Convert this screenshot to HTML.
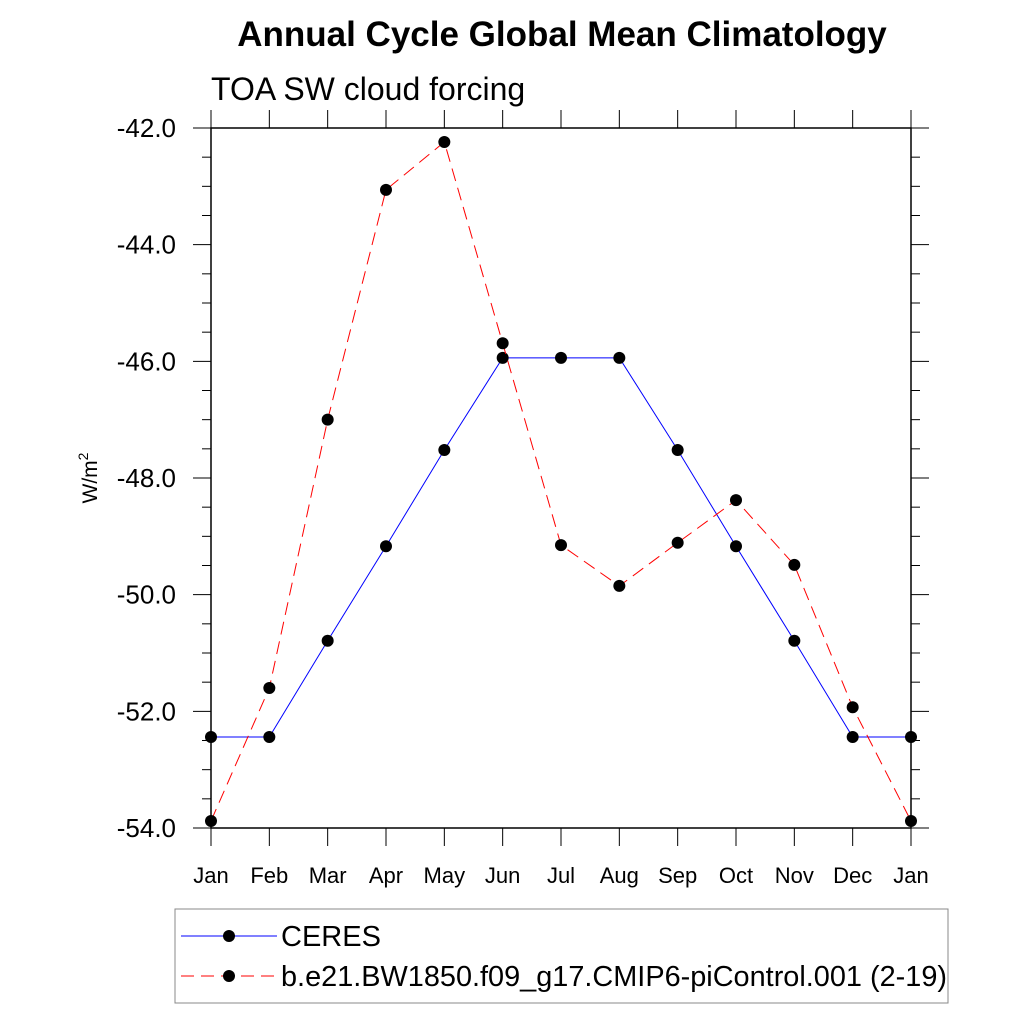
<!DOCTYPE html>
<html><head><meta charset="utf-8"><style>body{margin:0;background:#fff}</style></head><body>
<svg id="c" width="1024" height="1024" xmlns="http://www.w3.org/2000/svg" font-family="Liberation Sans, sans-serif">
<text x="562" y="46" font-size="35" font-weight="bold" text-anchor="middle">Annual Cycle Global Mean Climatology</text>
<text x="211" y="100" font-size="32">TOA SW cloud forcing</text>
<text transform="translate(97,478) rotate(-90)" font-size="21" text-anchor="middle">W/m<tspan dy="-9" font-size="14">2</tspan></text>
<g id="ax"></g><g id="series"></g>
<g>
<rect x="175" y="909" width="773" height="94" fill="none" stroke="#888" stroke-width="1"/>
<line x1="181" y1="936" x2="277" y2="936" stroke="blue" stroke-width="1"/>
<circle cx="229" cy="936" r="6" fill="#000"/>
<text x="281" y="946" font-size="29">CERES</text>
<line x1="181" y1="976" x2="277" y2="976" stroke="red" stroke-width="1" stroke-dasharray="13,7"/>
<circle cx="229" cy="976" r="6" fill="#000"/>
<text x="281" y="986" font-size="29" textLength="666" lengthAdjust="spacingAndGlyphs">b.e21.BW1850.f09_g17.CMIP6-piControl.001 (2-19)</text>
</g>
</svg>
<script>
const months=["Jan","Feb","Mar","Apr","May","Jun","Jul","Aug","Sep","Oct","Nov","Dec","Jan"];
const ceres=[-52.44,-52.44,-50.79,-49.17,-47.52,-45.94,-45.94,-45.94,-47.52,-49.17,-50.79,-52.44,-52.44];
const model=[-53.88,-51.6,-47.0,-43.06,-42.24,-45.69,-49.15,-49.85,-49.11,-48.38,-49.49,-51.93,-53.88];
const yTicks=[-42,-44,-46,-48,-50,-52,-54];
const L=211,R=911,T=128,B=828,ymin=-54,ymax=-42;
const NS="http://www.w3.org/2000/svg";
const xs=i=>L+(R-L)*i/(months.length-1);
const ys=v=>B-(v-ymin)/(ymax-ymin)*(B-T);
function mk(tag,at,parent){const e=document.createElementNS(NS,tag);for(const k in at)e.setAttribute(k,at[k]);parent.appendChild(e);return e;}
const ax=document.getElementById('ax');
const frame=mk('rect',{x:L,y:T,width:R-L,height:B-T,fill:'none',stroke:'#000','stroke-width':1.5},ax);


for(let v=ymin;v<=ymax+1e-9;v+=0.5){
  const y=ys(v),major=Math.abs(v%2)<1e-9,len=major?18:9;
  mk('line',{x1:L-len,y1:y,x2:L,y2:y,stroke:'#000','stroke-width':1},ax);
  mk('line',{x1:R,y1:y,x2:R+len,y2:y,stroke:'#000','stroke-width':1},ax);
}
yTicks.forEach(v=>{
  const t=mk('text',{x:L-35,y:ys(v)+9,'font-size':26,'text-anchor':'end'},ax);t.textContent=v.toFixed(1);
  
  
});
months.forEach((m,i)=>{
  const x=xs(i);
  mk('line',{x1:x,y1:B,x2:x,y2:B+18,stroke:'#000','stroke-width':1},ax);
  mk('line',{x1:x,y1:T-18,x2:x,y2:T,stroke:'#000','stroke-width':1},ax);
  const t=mk('text',{x:x,y:883,'font-size':22,'text-anchor':'middle'},ax);t.textContent=m;
  
  
});
const sg=document.getElementById('series');
function draw(vals,color,dash,name){
  const g=mk('g',{},sg);
  
  
  mk('polyline',{points:vals.map((v,i)=>xs(i)+','+ys(v)).join(' '),fill:'none',stroke:color,'stroke-width':1,'stroke-dasharray':dash},g);
  vals.forEach((v,i)=>{const c=mk('circle',{cx:xs(i),cy:ys(v),r:6,fill:'#000'},g);
    
    });
}
draw(ceres,'blue','none','ceres-series');
draw(model,'red','13,7','model-series');
</script>
</body></html>
